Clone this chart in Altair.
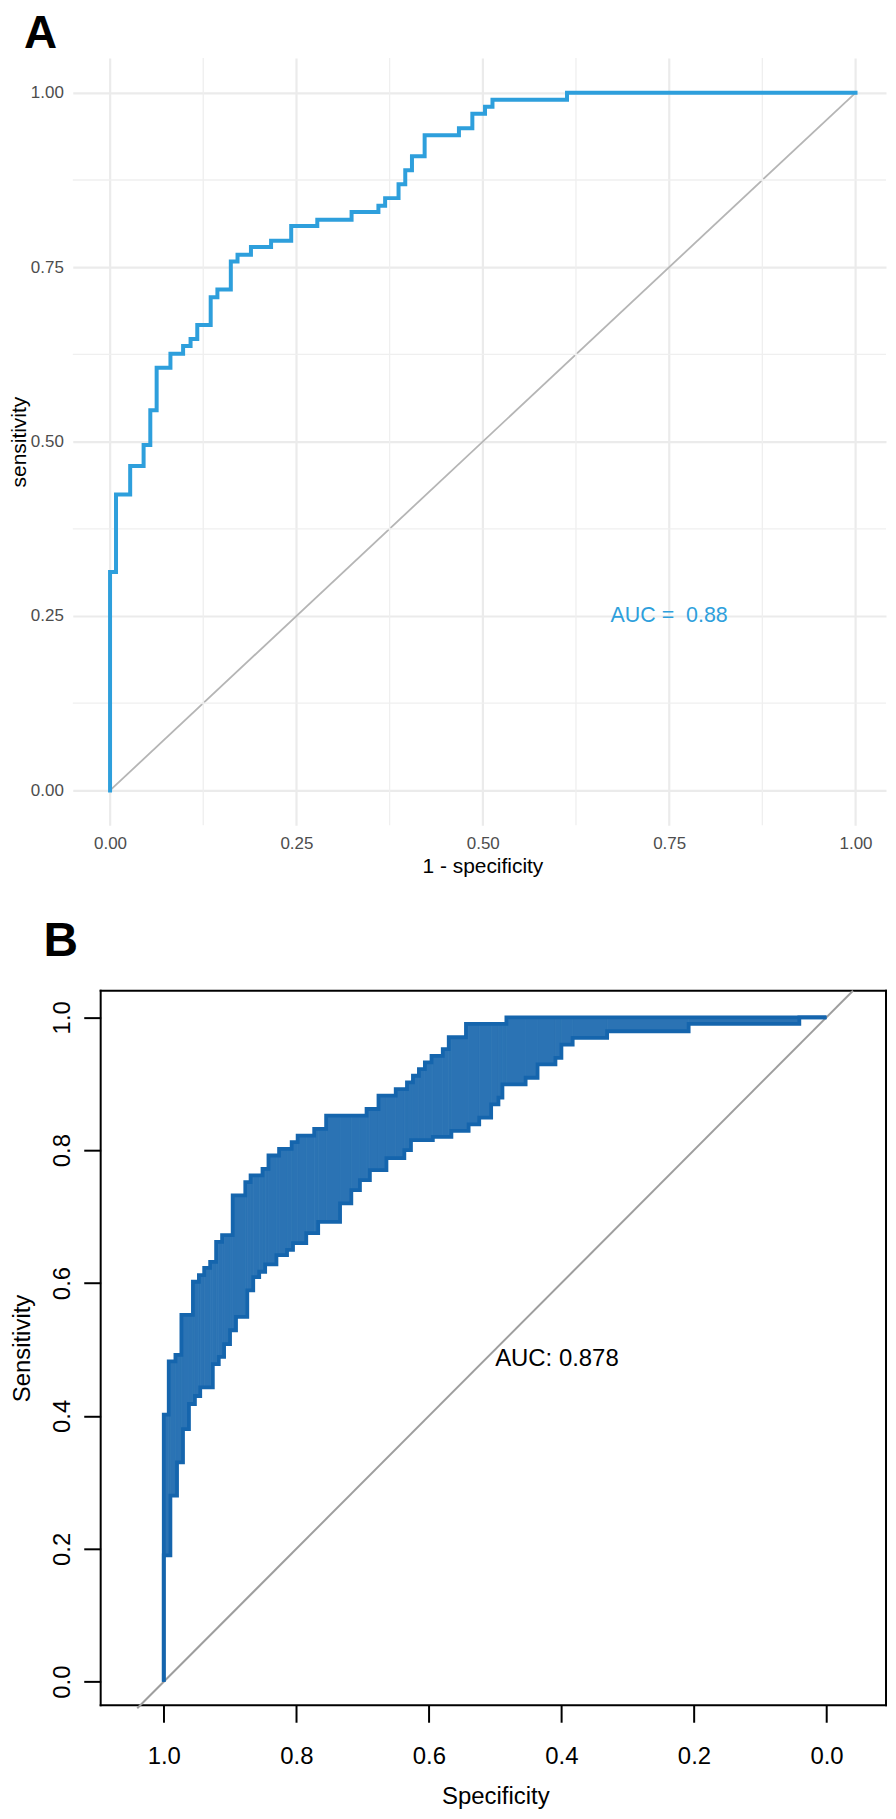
import altair as alt
import pandas as pd

# ---------------- Panel A data (ROC step curve: 1 - specificity vs sensitivity) ----------------
a_fpr = [0.0, 0.0, 0.008, 0.027, 0.045, 0.054, 0.0625, 0.081, 0.098, 0.108, 0.117, 0.135,
         0.144, 0.162, 0.171, 0.189, 0.216, 0.243, 0.278, 0.324, 0.360, 0.369, 0.387,
         0.396, 0.405, 0.422, 0.468, 0.486, 0.503, 0.513, 0.613, 1.0]
a_tpr = [0.0, 0.313, 0.424, 0.465, 0.495, 0.545, 0.606, 0.626, 0.637, 0.647, 0.667, 0.707,
         0.718, 0.758, 0.768, 0.779, 0.788, 0.809, 0.818, 0.829, 0.838, 0.849, 0.869,
         0.889, 0.909, 0.939, 0.949, 0.970, 0.980, 0.990, 1.0, 1.0]
a_major = [0.0, 0.25, 0.5, 0.75, 1.0]
a_minor = [0.125, 0.375, 0.625, 0.875]
a_diag_x = [0.0, 1.0]
a_diag_y = [0.0, 1.0]
a_auc_x = [0.75]
a_auc_y = [0.25]
a_auc_text = ["AUC = \u00a00.88"]

# ---------------- Panel B data (specificity vs sensitivity, CI band envelopes) ----------------
b_up_spec = [1.0, 1.0, 0.9925, 0.9824, 0.9734, 0.956, 0.947, 0.939, 0.930, 0.921, 0.912,
             0.896, 0.877, 0.869, 0.851, 0.842, 0.826, 0.807, 0.798, 0.773, 0.755, 0.694,
             0.676, 0.650, 0.633, 0.624, 0.615, 0.606, 0.596, 0.579, 0.570, 0.544, 0.483, 0.0]
b_up_sens = [0.0, 0.402, 0.482, 0.492, 0.552, 0.602, 0.612, 0.623, 0.632, 0.662, 0.672,
             0.732, 0.752, 0.762, 0.772, 0.792, 0.802, 0.812, 0.822, 0.832, 0.852, 0.862,
             0.882, 0.892, 0.902, 0.912, 0.922, 0.932, 0.942, 0.952, 0.970, 0.990, 1.0, 1.0]
b_lo_spec = [1.0, 1.0, 0.99, 0.98, 0.971, 0.962, 0.953, 0.945, 0.926, 0.917, 0.909, 0.900,
             0.891, 0.874, 0.865, 0.856, 0.847, 0.830, 0.814, 0.805, 0.785, 0.767, 0.734,
             0.717, 0.704, 0.689, 0.664, 0.637, 0.627, 0.594, 0.566, 0.540, 0.524, 0.506,
             0.495, 0.489, 0.454, 0.436, 0.409, 0.400, 0.383, 0.331, 0.208, 0.041, 0.0]
b_lo_sens = [0.0, 0.19, 0.28, 0.33, 0.38, 0.418, 0.43, 0.443, 0.478, 0.489, 0.508, 0.529,
             0.549, 0.589, 0.609, 0.617, 0.628, 0.642, 0.650, 0.660, 0.675, 0.692, 0.720,
             0.740, 0.755, 0.770, 0.788, 0.800, 0.815, 0.820, 0.829, 0.839, 0.849, 0.869,
             0.879, 0.899, 0.909, 0.929, 0.939, 0.959, 0.969, 0.979, 0.990, 1.0, 1.0]
b_ticks = [0.0, 0.2, 0.4, 0.6, 0.8, 1.0]
b_box_spec = [1.0952, -0.0898]     # frame of the base-R plot region
b_box_sens = [-0.0355, 1.04]
b_diag_spec = [1.04, -0.04]
b_diag_sens = [-0.04, 1.04]
b_auc_x = [0.5]
b_auc_y = [0.5]
b_auc_text = ["AUC: 0.878"]

FONT = "Liberation Sans"
A_BLUE = "#2E9FDC"
B_LINE = "#1565AD"
B_FILL = "#2B73B4"


def steps(xs, ys):
    px, py = [], []
    for k in range(len(xs)):
        if k > 0:
            px.append(xs[k])
            py.append(ys[k - 1])
        px.append(xs[k])
        py.append(ys[k])
    return pd.DataFrame({"x": px, "y": py, "i": list(range(len(px)))})


def step_value(xs, ys, s):
    last = 0
    for k in range(len(xs)):
        if xs[k] > s:
            last = k
    return ys[last]


def band_rects(ux, uy, lx, ly):
    brk = sorted(set(ux) | set(lx), reverse=True)
    rows = {"x": [], "x2": [], "y": [], "y2": []}
    for a, b in zip(brk[:-1], brk[1:]):
        mid = (a + b) / 2
        hi = step_value(ux, uy, mid)
        low = step_value(lx, ly, mid)
        if hi > low:
            rows["x"].append(a)
            rows["x2"].append(b)
            rows["y"].append(low)
            rows["y2"].append(hi)
    return pd.DataFrame(rows)


# ================= Panel A =================
ax_x = alt.Scale(domain=[-0.05, 1.0409], nice=False, zero=False)
ax_y = alt.Scale(domain=[-0.05, 1.05], nice=False, zero=False)

axis_ax = alt.Axis(values=a_major, format=".2f", grid=True, gridColor="#EBEBEB", gridWidth=2.2,
                   domain=False, ticks=False, labelFontSize=17, labelColor="#4D4D4D",
                   labelFont=FONT, labelPadding=23.7, labelBaseline="alphabetic",
                   labelFlush=False, title="1 - specificity", titleFont=FONT, titleFontSize=21,
                   titleFontWeight="normal", titleColor="black", titleX=411, titleY=47,
                   titleBaseline="alphabetic", titleAlign="center")
axis_ay = alt.Axis(values=a_major, format=".2f", grid=True, gridColor="#EBEBEB", gridWidth=2.2,
                   domain=False, ticks=False, labelFontSize=17, labelColor="#4D4D4D",
                   labelFont=FONT, labelPadding=9.5, labelFlush=False,
                   title="sensitivity", titleFont=FONT, titleFontSize=21,
                   titleFontWeight="normal", titleColor="black", titleX=-47.4, titleY=385,
                   titleAngle=270, titleBaseline="alphabetic", titleAlign="center")

XA = alt.X("x:Q", scale=ax_x, axis=axis_ax, title="1 - specificity")
YA = alt.Y("y:Q", scale=ax_y, axis=axis_ay, title="sensitivity")
XA2 = alt.X("x:Q", scale=ax_x, title="1 - specificity")
YA2 = alt.Y("y:Q", scale=ax_y, title="sensitivity")

minor_v = alt.Chart(pd.DataFrame({"x": a_minor})).mark_rule(
    color="#EFEFEF", strokeWidth=1.3).encode(x=XA2)
minor_h = alt.Chart(pd.DataFrame({"y": a_minor})).mark_rule(
    color="#EFEFEF", strokeWidth=1.3).encode(y=YA2)

diag_a = alt.Chart(pd.DataFrame({"x": a_diag_x, "y": a_diag_y})).mark_line(
    color="#B5B5B5", strokeWidth=1.8).encode(x=XA, y=YA)

curve_a = alt.Chart(steps(a_fpr, a_tpr)).mark_line(
    color=A_BLUE, strokeWidth=4, strokeJoin="miter", strokeCap="square").encode(
    x=XA2, y=YA2, order="i:Q")

auc_a = alt.Chart(pd.DataFrame({"x": a_auc_x, "y": a_auc_y, "t": a_auc_text})).mark_text(
    color=A_BLUE, fontSize=21.5, font=FONT, align="center", baseline="middle").encode(
    x=XA2, y=YA2, text="t:N")

tag_a = alt.Chart(pd.DataFrame({"t": ["A"]})).mark_text(
    fontSize=46, fontWeight="bold", font=FONT, align="left", baseline="alphabetic",
    color="black").encode(x=alt.value(-49), y=alt.value(-9.7), text="t:N")

panel_a = alt.layer(diag_a, minor_v, minor_h, curve_a, auc_a, tag_a).properties(
    width=816, height=770)

# ================= Panel B =================
# plot origin shared with panel A (page x=72); the framed region starts 28px further right
bx = alt.Scale(domain=[-0.0898, 1.1373], reverse=True, nice=False, zero=False)
by = alt.Scale(domain=[-0.0355, 1.04], nice=False, zero=False)

axis_bx = alt.Axis(values=b_ticks, format=".1f", grid=False, domain=False, ticks=True,
                   tickSize=17, tickWidth=2, tickColor="black", labelFontSize=24,
                   labelColor="black", labelFont=FONT, labelPadding=41,
                   labelBaseline="alphabetic", labelFlush=False, title="Specificity",
                   titleFont=FONT, titleFontSize=24, titleFontWeight="normal",
                   titleColor="black", titleX=424, titleY=99, titleBaseline="alphabetic",
                   titleAlign="center")
axis_by = alt.Axis(values=b_ticks, format=".1f", grid=False, domain=False, ticks=True,
                   offset=-28, tickSize=17, tickWidth=2, tickColor="black", labelFontSize=24,
                   labelColor="black", labelFont=FONT, labelPadding=14.7, labelAngle=270,
                   labelAlign="center", labelBaseline="alphabetic", labelFlush=False,
                   title="Sensitivity", titleFont=FONT, titleFontSize=24,
                   titleFontWeight="normal", titleColor="black", titleX=-71, titleY=358.5,
                   titleAngle=270, titleBaseline="alphabetic", titleAlign="center")

XB = alt.X("x:Q", scale=bx, axis=axis_bx, title="Specificity")
YB = alt.Y("y:Q", scale=by, axis=axis_by, title="Sensitivity")
XB2 = alt.X("x:Q", scale=bx, title="Specificity")
YB2 = alt.Y("y:Q", scale=by, title="Sensitivity")

box_df = pd.DataFrame({
    "x": [b_box_spec[0], b_box_spec[1], b_box_spec[0], b_box_spec[0]],
    "x2": [b_box_spec[0], b_box_spec[1], b_box_spec[1], b_box_spec[1]],
    "y": [b_box_sens[0], b_box_sens[0], b_box_sens[0], b_box_sens[1]],
    "y2": [b_box_sens[1], b_box_sens[1], b_box_sens[0], b_box_sens[1]],
})
box_b = alt.Chart(box_df).mark_rule(color="black", strokeWidth=2, strokeCap="square").encode(
    x=XB, x2="x2:Q", y=YB, y2="y2:Q")

up = steps(b_up_spec, b_up_sens)
lo = steps(b_lo_spec, b_lo_sens)

band_fill = alt.Chart(band_rects(b_up_spec, b_up_sens, b_lo_spec, b_lo_sens)).mark_rect(
    color=B_FILL, stroke=B_FILL, strokeWidth=0.8).encode(
    x=XB2, x2="x2:Q", y=YB2, y2="y2:Q")
diag_b = alt.Chart(pd.DataFrame({"x": b_diag_spec, "y": b_diag_sens})).mark_line(
    color="#9E9E9E", strokeWidth=2).encode(x=XB2, y=YB2)
up_line = alt.Chart(up).mark_line(color=B_LINE, strokeWidth=3.8, strokeJoin="miter").encode(
    x=XB2, y=YB2, order="i:Q")
lo_line = alt.Chart(lo).mark_line(color=B_LINE, strokeWidth=3.8, strokeJoin="miter").encode(
    x=XB2, y=YB2, order="i:Q")
auc_b = alt.Chart(pd.DataFrame({"x": b_auc_x, "y": b_auc_y, "t": b_auc_text})).mark_text(
    color="black", fontSize=24, font=FONT, align="left", baseline="top", dy=-2).encode(
    x=XB2, y=YB2, text="t:N")
tag_b = alt.Chart(pd.DataFrame({"t": ["B"]})).mark_text(
    fontSize=48, fontWeight="bold", font=FONT, align="left", baseline="alphabetic",
    color="black").encode(x=alt.value(-29.3), y=alt.value(-35), text="t:N")

panel_b = alt.layer(box_b, diag_b, band_fill, up_line, lo_line, auc_b, tag_b).properties(
    width=816, height=717)

chart = alt.vconcat(panel_a, panel_b, spacing=42).properties(padding=0).configure(
    font=FONT).configure_view(strokeWidth=0)

chart.save("out.html", embed_options={"renderer": "svg", "actions": False})
